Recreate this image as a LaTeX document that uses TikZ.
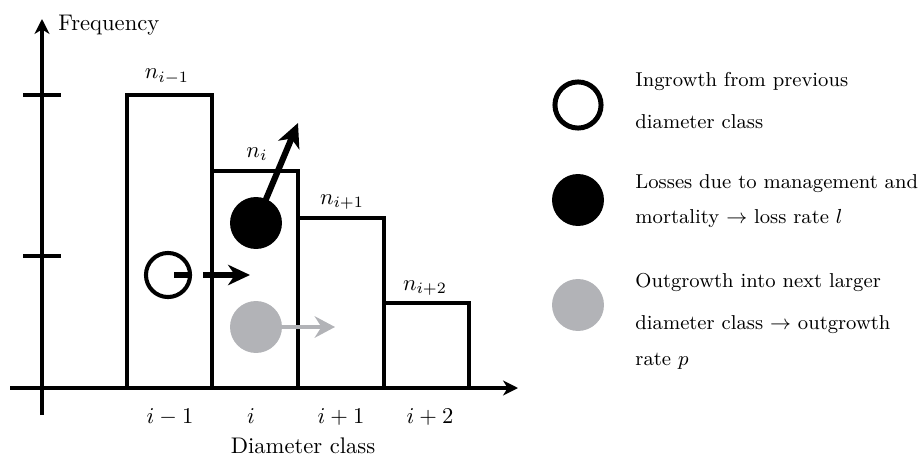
\documentclass[tikz,border=0pt]{standalone}
\usetikzlibrary{arrows.meta}
\definecolor{lgrey}{RGB}{178,179,183}
\begin{document}
\begin{tikzpicture}[x=0.4425pt,y=-0.4425pt,
  axis/.style={line width=1.8pt},
  bar/.style={line width=1.35pt},
  lbl/.style={anchor=base,inner sep=0pt},
  ltxt/.style={anchor=base west,inner sep=0pt},
  legtxt/.style={ltxt,font=\fontsize{8.9pt}{11pt}\selectfont},
  opencirc/.style={circle,draw=black,fill=white,inner sep=0pt,line width=1.8pt,minimum size=19.5pt},
  blackcirc/.style={circle,fill=black,inner sep=0pt,minimum size=23pt},
  greycirc/.style={circle,fill=lgrey,inner sep=0pt,minimum size=23pt},
  axtip/.style={-{Stealth[length=6.6pt,width=6.6pt,inset=2pt]}}
]
\useasboundingbox (0,0) rectangle (919,459);

% axes
\coordinate (ybot) at (42,415);
\coordinate (ytop) at (42,19);
\coordinate (xl) at (10,388);
\coordinate (xr) at (518,388);
\draw[axis,axtip] (ybot) -- (ytop);
\draw[axis,axtip] (xl) -- (xr);
\coordinate (t1a) at (23,95); \coordinate (t1b) at (61,95);
\coordinate (t2a) at (23,256); \coordinate (t2b) at (61,256);
\draw[axis] (t1a) -- (t1b);
\draw[axis] (t2a) -- (t2b);
\node[ltxt] (freq) at (58,31) {Frequency};
\node[lbl] (dclass) at (303,453) {Diameter class};

% bars
\draw[bar] (127,388) rectangle (212,95);
\draw[bar] (212,388) rectangle (298,171);
\draw[bar] (298,388) rectangle (384,218);
\draw[bar] (384,388) rectangle (469,303);

\node[lbl] (n1) at (167,79) {$n_{i-1}$};
\node[lbl] (n2) at (257,157) {$n_i$};
\node[lbl] (n3) at (342,204) {$n_{i+1}$};
\node[lbl] (n4) at (425,290) {$n_{i+2}$};

\node[lbl] (c1) at (170,423) {$i-1$};
\node[lbl] (c2) at (251,423) {$i$};
\node[lbl] (c3) at (341,423) {$i+1$};
\node[lbl] (c4) at (430,423) {$i+2$};

% flows
\node[opencirc] (oc) at (168,275) {};
\coordinate (octip) at (250,275);
\draw[line width=2.3pt,dash pattern=on 7.5pt off 5.3pt on 40pt,-{Stealth[length=9.7pt,width=9pt,inset=3pt]}] ([xshift=2.8pt]oc.center) -- (octip);

\node[blackcirc] (bc) at (256,223) {};
\coordinate (bctip) at (298,123);
\draw[line width=2.7pt,-{Stealth[length=10.5pt,width=10pt,inset=3pt]}] (bc.center) -- (bctip);

\node[greycirc] (gc) at (256,327) {};
\coordinate (gctip) at (335,327);
\draw[lgrey,line width=2.2pt,-{Stealth[length=9pt,width=9.5pt,inset=3pt]}] (gc.center) -- (gctip);

% legend
\node[opencirc,line width=2.2pt,minimum size=20.4pt] (loc) at (578,105) {};
\node[blackcirc] (lbc) at (578,200) {};
\node[greycirc] (lgc) at (578,305) {};

\node[legtxt] (l1a) at (635,86) {Ingrowth from previous};
\node[legtxt] (l1b) at (635,128) {diameter class};
\node[legtxt] (l2a) at (635,188) {Losses due to management and};
\node[legtxt] (l2b) at (635,223) {mortality $\rightarrow$ loss rate $l$};
\node[legtxt] (l3a) at (635,287) {Outgrowth into next larger};
\node[legtxt] (l3b) at (635,329) {diameter class $\rightarrow$ outgrowth};
\node[legtxt] (l3c) at (635,365) {rate $p$};
\end{tikzpicture}
\end{document}
